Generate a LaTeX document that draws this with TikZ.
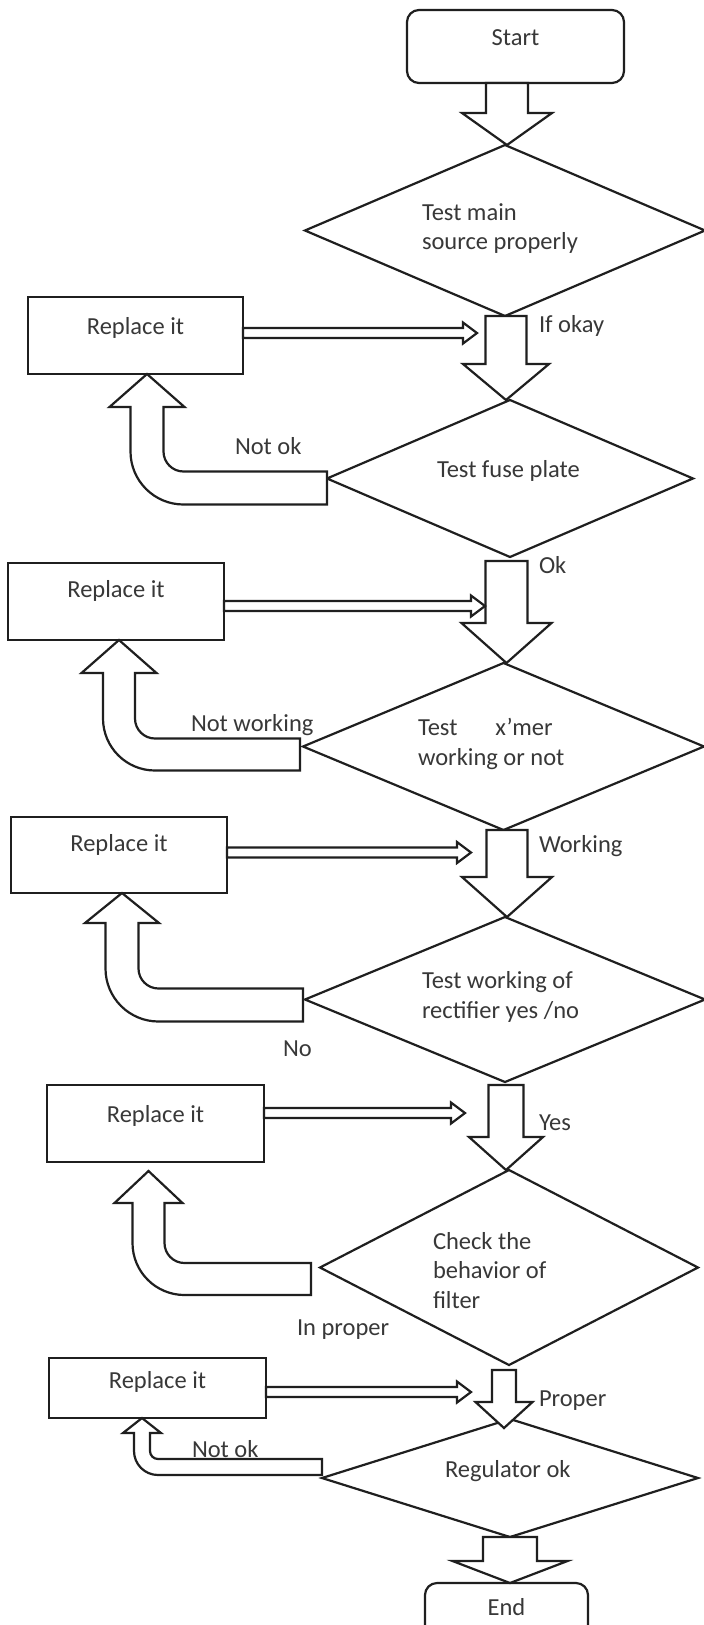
\documentclass[tikz,border=0pt]{standalone}
\usepackage{fontspec}
\setmainfont{Carlito}
\usetikzlibrary{shapes.geometric,calc}
\tikzset{
  ln/.style={line width=2.2pt, draw=black!88, line join=miter},
  boxnode/.style={ln, rectangle, fill=white, inner sep=0pt, outer sep=0pt, text=black!78, anchor=base},
  dia/.style={ln, diamond, inner sep=0pt, outer sep=0pt},
  txt/.style={text=black!78, inner sep=0pt, outer sep=0pt, anchor=base west},
  blk/.style={ln, fill=white},
}
% block arrow pointing down: from, tip, shaft half-width, head half-width, head length
\newcommand{\blockdown}[5]{\draw[blk] let \p1=(#1), \p2=(#2) in
  (\x2-#3pt,\y1) -- (\x2+#3pt,\y1) -- (\x2+#3pt,\y2+#5pt) -- (\x2+#4pt,\y2+#5pt) -- (\x2,\y2)
  -- (\x2-#4pt,\y2+#5pt) -- (\x2-#3pt,\y2+#5pt) -- cycle;}
% bent arrow: band end (mid), tip, half width, head half-width, head length, inner radius, outer radius
\newcommand{\bentup}[7]{\draw[blk] let \p1=(#1), \p2=(#2) in
  (\x1,\y1+#3pt) -- (\x2+#3pt+#6pt,\y1+#3pt) arc[start angle=270,end angle=180,radius=#6pt]
  -- (\x2+#3pt,\y2-#5pt) -- (\x2+#4pt,\y2-#5pt) -- (\x2,\y2) -- (\x2-#4pt,\y2-#5pt)
  -- (\x2-#3pt,\y2-#5pt) -- (\x2-#3pt,\y1-#3pt+#7pt) arc[start angle=180,end angle=270,radius=#7pt]
  -- (\x1,\y1-#3pt) -- cycle;}
% hollow thin arrow to the right
\newcommand{\dblarrow}[2]{\draw[blk] let \p1=(#1), \p2=(#2) in
  (\x1,\y2+5pt) -- (\x2-14pt,\y2+5pt) -- (\x2-14pt,\y2+10.5pt) -- (\x2,\y2)
  -- (\x2-14pt,\y2-10.5pt) -- (\x2-14pt,\y2-5pt) -- (\x1,\y2-5pt) -- cycle;}
\begin{document}
\begin{tikzpicture}[x=1pt,y=-1pt,font=\fontsize{24.5pt}{29.5pt}\selectfont]
\useasboundingbox (0,0) rectangle (704,1625);
\clip (0,0) rectangle (704,1625);
\fill[white] (0,0) rectangle (704,1625);

% diamonds
\node[dia, minimum width=400pt, minimum height=171pt] (d1) at (505,230.5) {};
\node[dia, minimum width=366pt, minimum height=157pt] (d2) at (510,478.5) {};
\node[dia, minimum width=401pt, minimum height=167pt] (d3) at (503.5,746.5) {};
\node[dia, minimum width=400pt, minimum height=165pt] (d4) at (505,999.5) {};
\node[dia, minimum width=378pt, minimum height=195pt] (d5) at (509,1267.5) {};
\node[dia, minimum width=376pt, minimum height=118pt] (d6) at (510,1478) {};

% terminals
\node[boxnode, rounded corners=12pt, minimum width=217pt, text height=35pt, text depth=38pt] (start) at (515.5,45) {Start};
\node[boxnode, rounded corners=12pt, minimum width=163pt, text height=32pt, text depth=35pt] (end) at (506.5,1615) {End};

% replace boxes
\node[boxnode, minimum width=215pt, text height=37pt, text depth=40pt] (r1) at (135.5,334) {Replace it};
\node[boxnode, minimum width=216pt, text height=34pt, text depth=43pt] (r2) at (116,597) {Replace it};
\node[boxnode, minimum width=216pt, text height=34pt, text depth=42pt] (r3) at (119,851) {Replace it};
\node[boxnode, minimum width=217pt, text height=37pt, text depth=40pt] (r4) at (155.5,1122) {Replace it};
\node[boxnode, minimum width=217pt, text height=30pt, text depth=30pt] (r5) at (157.5,1388) {Replace it};

% block arrows down the main flow
\blockdown{start.south}{$(d1.north)+(2,0)$}{21}{45}{32}
\blockdown{d1.south}{$(d2.north)+(-4,0)$}{20.5}{43}{36}
\blockdown{$(d2.south)+(0,4)$}{$(d3.north)+(3,0)$}{21}{45}{40}
\blockdown{d3.south}{$(d4.north)+(2,0)$}{20.5}{45}{40}
\blockdown{$(d4.south)+(0,3)$}{$(d5.north)+(-3,0)$}{17.5}{37}{33}
\blockdown{$(d5.south)+(0,5)$}{$(d6.north)+(-6,9)$}{12}{28.5}{26}
\blockdown{d6.south}{$(end.north)+(3.5,0)$}{27}{57.5}{22}

% bent arrows back to the replace boxes
\bentup{$(d2.west)+(0,9.5)$}{$(r1.south)+(11.5,0)$}{16.5}{37.5}{33}{20}{53}
\bentup{$(d3.west)+(-3,8)$}{$(r2.south)+(3,0)$}{16}{37.5}{33}{20}{52}
\bentup{$(d4.west)+(-2,5.5)$}{$(r3.south)+(3,0)$}{16.5}{37}{30}{20}{53}
\bentup{$(d5.west)+(-9,11.5)$}{$(r4.south)+(-7,9)$}{16}{34}{32}{20}{52}
\bentup{$(d6.west)+(0,-11)$}{$(r5.south)+(-15.5,0)$}{8}{19}{15}{8}{24}

% thin hollow arrows from replace boxes
\coordinate (h1) at (477,333);
\coordinate (h2) at (485,606);
\coordinate (h3) at (471,852.5);
\coordinate (h4) at (465,1113);
\coordinate (h5) at (471,1392);
\dblarrow{r1.east}{h1}
\dblarrow{r2.east}{h2}
\dblarrow{r3.east}{h3}
\dblarrow{r4.east}{h4}
\dblarrow{r5.east}{h5}

% decision texts
\node[txt] (d1a) at (422,220) {Test main};
\node[txt] (d1b) at (422,249) {source properly};
\node[txt] (d2a) at (437,477) {Test fuse plate};
\node[txt] (d3a) at (418,735) {Test\hspace{38pt}x’mer};
\node[txt] (d3b) at (418,765) {working or not};
\node[txt] (d4a) at (422,988) {Test working of};
\node[txt] (d4b) at (422,1018) {rectifier yes /no};
\node[txt] (d5a) at (433,1249) {Check the};
\node[txt] (d5b) at (433,1278.5) {behavior of};
\node[txt] (d5c) at (433,1308) {filter};
\node[txt] (d6a) at (445,1477) {Regulator ok};

% branch labels
\node[txt] (l1) at (539,332) {If okay};
\node[txt] (l2) at (235,454) {Not ok};
\node[txt] (l3) at (539,573) {Ok};
\node[txt] (l4) at (191,731) {Not working};
\node[txt] (l5) at (539,852) {Working};
\node[txt] (l6) at (283,1056) {No};
\node[txt] (l7) at (539,1130) {Yes};
\node[txt] (l8) at (297,1335) {In proper};
\node[txt] (l9) at (539,1406) {Proper};
\node[txt] (l10) at (192,1457) {Not ok};
\end{tikzpicture}
\end{document}
